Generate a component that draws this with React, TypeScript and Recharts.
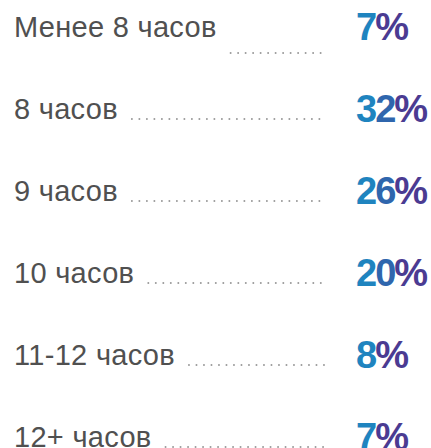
import React from "react";
import { ScatterChart, Scatter, XAxis, YAxis } from "recharts";

const categories = [
  "Менее 8 часов",
  "8 часов",
  "9 часов",
  "10 часов",
  "11-12 часов",
  "12+ часов",
];
const shares = [7, 32, 26, 20, 8, 7];

type Row = { label: string; share: number; row: number; x: number };

const rows: Row[] = categories.map((label, i) => ({
  label,
  share: shares[i],
  row: i,
  x: 0,
}));

const LABEL_FONT = "'Liberation Sans', Arial, sans-serif";
const LABEL_SIZE = 29;
const LEADER_END = 326;
const VALUE_X = 356;

// teal-blue to violet, left to right across the number
const SHADES = ["#1f84bf", "#2f66ad", "#4b3b92"];

let ctx: CanvasRenderingContext2D | null = null;
function textWidth(s: string): number {
  if (!ctx) ctx = document.createElement("canvas").getContext("2d");
  if (!ctx) return s.length * LABEL_SIZE * 0.5;
  ctx.font = `${LABEL_SIZE}px ${LABEL_FONT}`;
  return ctx.measureText(s).width + s.length * 0.3;
}

type ShapeProps = { cx?: number; cy?: number; payload?: Row };
function RowShape(props: ShapeProps) {
  const { cy, payload } = props;
  if (typeof cy !== "number" || !payload) return null;
  const labelX = 14;
  const end = labelX + textWidth(payload.label);
  // the first row's leader sits below its label in the original
  const first = payload.row === 0;
  const leaderY = first ? cy + 16 : cy;
  const leaderStart = end + 14;
  const digits = String(payload.share).split("");
  const digitShades = digits.length === 1 ? [SHADES[0]] : [SHADES[0], SHADES[1]];
  return (
    <g>
      <text
        x={labelX}
        y={cy}
        fontFamily={LABEL_FONT}
        fontSize={LABEL_SIZE}
        letterSpacing={0.3}
        fill="#505050"
      >
        {payload.label}
      </text>
      <line
        x1={leaderStart}
        x2={LEADER_END}
        y1={leaderY}
        y2={leaderY}
        stroke="#9a9a9a"
        strokeWidth={2}
        strokeLinecap="round"
        strokeDasharray="0 7.5"
      />
      <text
        x={VALUE_X}
        y={cy + 3}
        fontFamily={LABEL_FONT}
        fontWeight="bold"
        fontSize={38}
        letterSpacing={-2}
      >
        {digits.map((d, i) => (
          <tspan key={i} fill={digitShades[i]}>
            {d}
          </tspan>
        ))}
        <tspan fill={SHADES[2]}>%</tspan>
      </text>
    </g>
  );
}

export default function App() {
  return (
    <div style={{ position: "fixed", left: 0, top: 0, background: "#fff" }}>
      <ScatterChart
        width={431}
        height={448}
        margin={{ top: 0, right: 0, bottom: 0, left: 0 }}
      >
        <XAxis type="number" dataKey="x" domain={[0, 1]} hide />
        <YAxis
          type="number"
          dataKey="row"
          domain={[-0.4512, 5.0122]}
          allowDataOverflow
          reversed
          hide
        />
        <Scatter
          data={rows}
          shape={(p: unknown) => <RowShape {...(p as ShapeProps)} />}
          isAnimationActive={false}
        />
      </ScatterChart>
    </div>
  );
}
